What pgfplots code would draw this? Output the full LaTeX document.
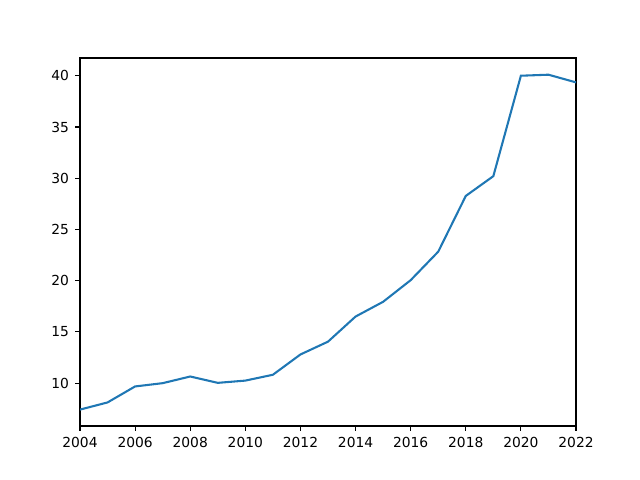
\documentclass[border=0pt]{standalone}
\usepackage{pgfplots}
\pgfplotsset{compat=1.18}
\usepackage{fontspec}
\setmainfont{DejaVu Sans}
\definecolor{mplblue}{HTML}{1F77B4}
\begin{document}
\begin{tikzpicture}
\path (0,0) rectangle (6.4in,4.8in);
\begin{axis}[
  at={(0.8in,0.54in)}, anchor=south west,
  scale only axis, width=4.96in, height=3.68in,
  xmin=2004, xmax=2022, ymin=5.82, ymax=41.73,
  xtick={2004,2006,...,2022}, ytick={10,15,...,40},
  tick pos=left, tick align=outside,
  major tick length=3.5pt,
  every tick/.style={black, line width=0.8pt},
  axis line style={line width=0.8pt},
  /pgf/number format/assume math mode=true,
  /pgf/number format/1000 sep={},
  tick label style={font=\fontsize{10}{12}\selectfont},
  xticklabel style={yshift=-1pt},
  yticklabel style={xshift=-1pt},
]
\addplot[mplblue, line width=1.5pt] coordinates {
(2004,7.42) (2005,8.12) (2006,9.68) (2007,10.0) (2008,10.65)
(2009,10.03) (2010,10.25) (2011,10.82) (2012,12.8) (2013,14.05)
(2014,16.5) (2015,17.94) (2016,20.05) (2017,22.83) (2018,28.27)
(2019,30.2) (2020,40.0) (2021,40.1) (2022,39.35)
};
\end{axis}
\end{tikzpicture}
\end{document}
